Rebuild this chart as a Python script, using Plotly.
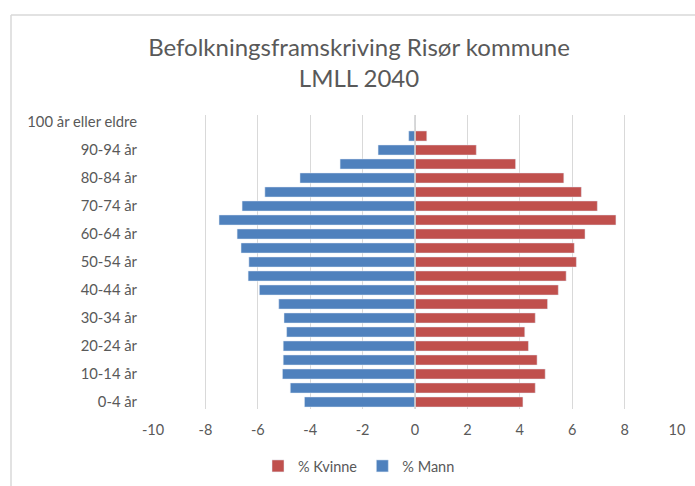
import plotly.graph_objects as go

categories = ["0-4 år", "5-9 år", "10-14 år", "15-19 år", "20-24 år", "25-29 år",
              "30-34 år", "35-39 år", "40-44 år", "45-49 år", "50-54 år", "55-59 år",
              "60-64 år", "65-69 år", "70-74 år", "75-79 år", "80-84 år", "85-89 år",
              "90-94 år", "95-99 år", "100 år eller eldre"]

kvinne = [4.12, 4.59, 4.97, 4.66, 4.33, 4.19, 4.59, 5.06, 5.47, 5.77, 6.16, 6.08,
          6.49, 7.67, 6.96, 6.35, 5.68, 3.84, 2.34, 0.45, 0.0]
mann = [-4.22, -4.76, -5.06, -5.03, -5.03, -4.90, -5.00, -5.20, -5.94, -6.37, -6.34, -6.64,
        -6.79, -7.48, -6.60, -5.73, -4.39, -2.86, -1.41, -0.24, 0.0]

x_ticks = [-10, -8, -6, -4, -2, 0, 2, 4, 6, 8, 10]

font_family = "Lato"
grey_text = "#595959"

fig = go.Figure()
fig.add_trace(go.Bar(y=categories, x=kvinne, orientation="h", name="% Kvinne",
                     marker=dict(color="#C0504D")))
fig.add_trace(go.Bar(y=categories, x=mann, orientation="h", name="% Mann",
                     marker=dict(color="#4F81BD")))

fig.update_layout(
    width=695, height=486,
    barmode="overlay", bargap=0.28,
    paper_bgcolor="white", plot_bgcolor="white",
    margin=dict(l=153, r=18, t=115, b=77, autoexpand=False),
    font=dict(family=font_family, color=grey_text, size=14),
    title=dict(text="Befolkningsframskriving Risør kommune<br>LMLL 2040",
               x=359 / 695, xref="container", xanchor="center",
               y=1 - 56 / 486, yref="container", yanchor="middle",
               font=dict(family=font_family, size=24, color=grey_text, weight=400)),
    showlegend=True,
    legend=dict(orientation="h", x=359 / 695, xref="container", xanchor="center",
                y=1 - 466 / 486, yref="container", yanchor="middle",
                itemwidth=30, tracegroupgap=0,
                font=dict(size=14.5, color=grey_text), traceorder="normal"),
    xaxis=dict(range=[-10, 10], tickvals=x_ticks, ticktext=[str(v) for v in x_ticks],
               showgrid=True, gridcolor="#D9D9D9", gridwidth=1, zeroline=False,
               showline=False, ticks="", ticklabelstandoff=10,
               tickfont=dict(size=14.5, color=grey_text), automargin=False),
    yaxis=dict(type="category", categoryorder="array", categoryarray=categories,
               tickvals=categories[::2], showgrid=False, zeroline=False, showline=False,
               ticks="", ticklabelstandoff=15, tickfont=dict(size=14.8, color=grey_text),
               range=[-0.5, len(categories) - 0.5], automargin=False),
    shapes=[
        dict(type="line", xref="x", yref="paper", x0=0, x1=0, y0=0, y1=1,
             line=dict(color="#D0D0D0", width=1.5), layer="above"),
        dict(type="line", xref="paper", yref="paper", x0=(11 - 153) / 524, x1=(700 - 153) / 524,
             y0=(409 - 15) / 294, y1=(409 - 15) / 294, line=dict(color="#D9D9D9", width=1.5),
             layer="below"),
        dict(type="line", xref="paper", yref="paper", x0=(11 - 153) / 524, x1=(11 - 153) / 524,
             y0=(409 - 15) / 294, y1=(409 - 500) / 294, line=dict(color="#D9D9D9", width=1.5),
             layer="below"),
    ],
)

fig.write_html("out.html", config={"displayModeBar": False},
               post_script="document.body.style.margin='0px';")
